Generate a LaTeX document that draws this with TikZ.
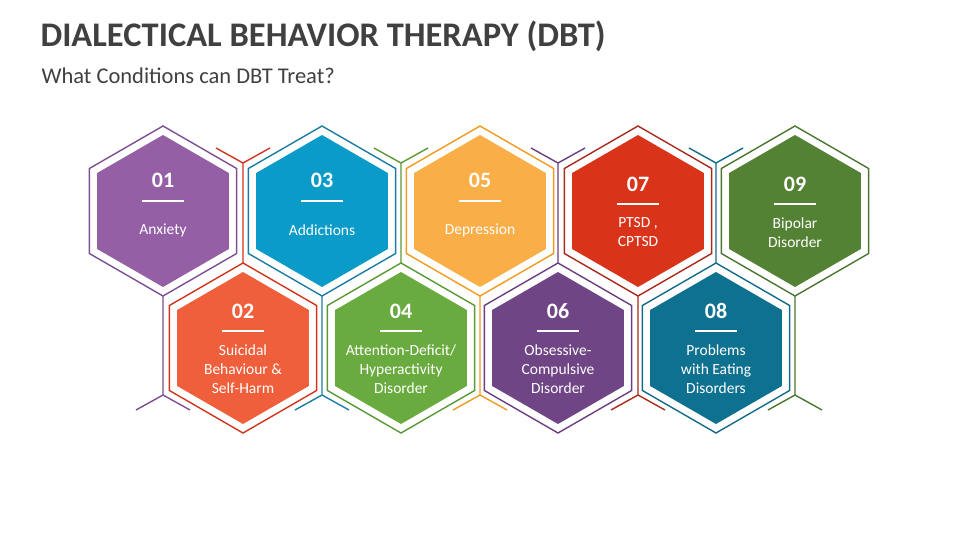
\documentclass[tikz,border=0pt]{standalone}
\usepackage{fontspec}
\setmainfont{Carlito}
\usetikzlibrary{shapes.geometric,positioning,calc}
\definecolor{cA}{HTML}{955FA5}\definecolor{lA}{HTML}{7E4E93}
\definecolor{cB}{HTML}{F05F3B}\definecolor{lB}{HTML}{D0341C}
\definecolor{cC}{HTML}{0A9BC9}\definecolor{lC}{HTML}{1A7CA3}
\definecolor{cD}{HTML}{6AAB3F}\definecolor{lD}{HTML}{5A9835}
\definecolor{cE}{HTML}{F9AE48}\definecolor{lE}{HTML}{F29A1E}
\definecolor{cF}{HTML}{6F4585}\definecolor{lF}{HTML}{6A3F7F}
\definecolor{cG}{HTML}{D9341A}\definecolor{lG}{HTML}{A92A1B}
\definecolor{cH}{HTML}{0F7190}\definecolor{lH}{HTML}{126C88}
\definecolor{cI}{HTML}{548235}\definecolor{lI}{HTML}{4B7530}
\definecolor{titlegray}{HTML}{404040}
\tikzset{
  hexout/.style={regular polygon, regular polygon sides=6, shape border rotate=30, minimum size=170pt, inner sep=0pt, draw=#1, line width=1.4pt},
  hexin/.style={regular polygon, regular polygon sides=6, shape border rotate=30, minimum size=152pt, inner sep=0pt, fill=#1},
  stem/.style={draw=#1, line width=1.4pt},
  numtext/.style={text=white, font=\bfseries\fontsize{22}{24}\selectfont},
  labtext/.style={text=white, align=center, font=\fontsize{15.5}{19}\selectfont}
}
% name, x, y, fill, line, number, label, number dy, bar dy
\newcommand{\hexitem}[9]{%
  \node[hexout=#5] (o#1) at (#2,#3) {};
  \node[hexin=#4] (h#1) at (#2,#3) {};
  \node[numtext] (n#1) at (#2,#3+#8) {#6};
  \draw[white, line width=1.2pt] ($(h#1)+(-21,#9)$) -- ($(h#1)+(21,#9)$);
  \node[labtext] (t#1) at (#2,#3+\labdy) {#7};
}
\begin{document}
\begin{tikzpicture}[x=1pt,y=-1pt]
\useasboundingbox (0,0) rectangle (960,540);
\node[anchor=west, text=titlegray, font=\bfseries\fontsize{34.5}{38}\selectfont] (title) at (37,36) {DIALECTICAL BEHAVIOR THERAPY (DBT)};
\node[anchor=west, text=titlegray, font=\fontsize{22.5}{25}\selectfont] (sub) at (38,76) {What Conditions can DBT Treat?};

% stems of the top row
\foreach \nm/\x/\col in {a/163/lA, c/322/lC, e/480/lE, g/638/lG, i/795/lI}{
  \coordinate (s\nm) at (\x,296);
  \coordinate (f\nm) at (\x,395);
  \draw[stem=\col] (s\nm) -- (f\nm) -- ++(-27,15);
  \draw[stem=\col] (f\nm) -- ++(27,15);
}
% stems of the bottom row
\foreach \nm/\x/\col in {b/243/lB, d/401/lD, f/558/lF, h/716/lH}{
  \coordinate (s\nm) at (\x,263);
  \coordinate (f\nm) at (\x,163);
  \draw[stem=\col] (s\nm) -- (f\nm) -- ++(-27,-15);
  \draw[stem=\col] (f\nm) -- ++(27,-15);
}

\def\labdy{19}
\hexitem{a}{163}{211}{cA}{lA}{01}{Anxiety}{-31}{-10}
\hexitem{c}{322}{211}{cC}{lC}{03}{Addictions}{-31}{-10}
\hexitem{e}{480}{211}{cE}{lE}{05}{Depression}{-31}{-10}
\def\labdy{21.5}
\hexitem{g}{638}{211}{cG}{lG}{07}{PTSD ,\\CPTSD}{-27}{-7}
\hexitem{i}{795}{211}{cI}{lI}{09}{Bipolar\\Disorder}{-27}{-7}
\def\labdy{21}
\hexitem{b}{243}{348}{cB}{lB}{02}{Suicidal\\Behaviour \&\\Self-Harm}{-37}{-17}
\hexitem{d}{401}{348}{cD}{lD}{04}{Attention-Deficit/\\Hyperactivity\\Disorder}{-37}{-17}
\hexitem{f}{558}{348}{cF}{lF}{06}{Obsessive-\\Compulsive\\Disorder}{-37}{-17}
\hexitem{h}{716}{348}{cH}{lH}{08}{Problems\\with Eating\\Disorders}{-37}{-17}
\end{tikzpicture}
\end{document}
